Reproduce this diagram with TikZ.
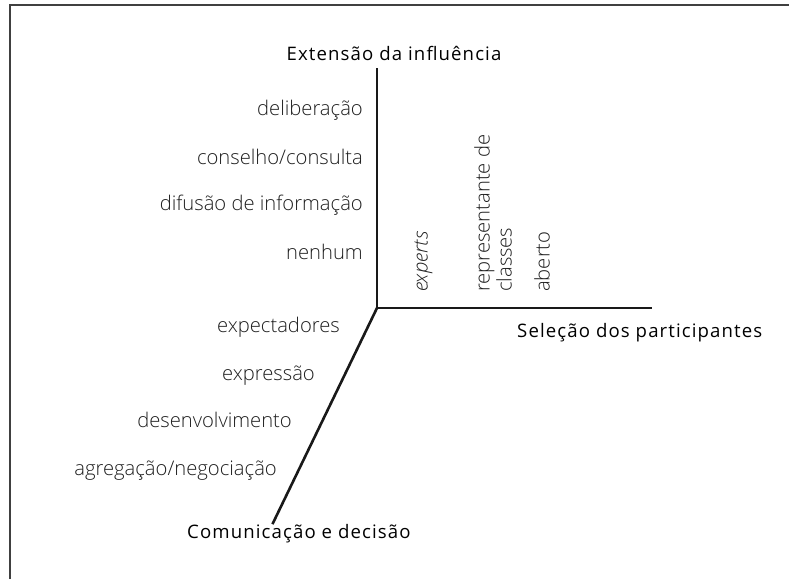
\documentclass[tikz,border=0pt]{standalone}
\usepackage{fontspec}
\setmainfont{Open Sans}
\newfontfamily\lightfont{Open Sans Light}
\newfontfamily\titlefont{Open Sans}[LetterSpace=6]
\usetikzlibrary{positioning}
\begin{document}
\begin{tikzpicture}[x=1pt,y=-1pt,
    axis/.style={line width=2.6pt, black!90, line cap=rect},
    lbl/.style={font=\lightfont\fontsize{20.2}{22}\selectfont, text=black!88, inner sep=0pt},
    ttl/.style={font=\titlefont\fontsize{18.6}{22}\selectfont, inner sep=0pt}]
\useasboundingbox (0,0) rectangle (789,579);
% moldura
\draw[line width=1.6pt, black!75] (10,579) -- (10,5) -- (789,5);
% eixos
\coordinate (o) at (377,308);
\coordinate (ytop) at (377,69);
\coordinate (xend) at (651,308);
\coordinate (zend) at (273,523);
\draw[axis] (ytop) -- (o) -- (xend);
\draw[axis] (o) -- (zend);
% titulos
\node[ttl] (influencia) at (394,53) {Extensão da influência};
\node[ttl, anchor=mid west] (selecao) at (517,335) {Seleção dos participantes};
\node[ttl, anchor=mid west] (comunic) at (187,536) {Comunicação e decisão};
% extensao da influencia
\node[lbl, anchor=mid east] (delib) at (363,113) {deliberação};
\node[lbl, anchor=mid east] (consel) at (363,162) {conselho/consulta};
\node[lbl, anchor=mid east] (difus) at (363,208) {difusão de informação};
\node[lbl, anchor=mid east] (nenhum) at (363,257) {nenhum};
% selecao dos participantes
\node[lbl, rotate=90, anchor=mid west] (experts) at (425,292) {\itshape experts};
\node[lbl, rotate=90, anchor=west, align=left] (repres) at (493,292) {representante de\\classes};
\node[lbl, rotate=90, anchor=mid west] (aberto) at (547,292) {aberto};
% comunicacao e decisao
\node[lbl, anchor=mid east] (expect) at (340,330) {expectadores};
\node[lbl, anchor=mid east] (express) at (315,378) {expressão};
\node[lbl, anchor=mid east] (desenv) at (292,425) {desenvolvimento};
\node[lbl, anchor=mid east] (agreg) at (277,473) {agregação/negociação};
\end{tikzpicture}
\end{document}
